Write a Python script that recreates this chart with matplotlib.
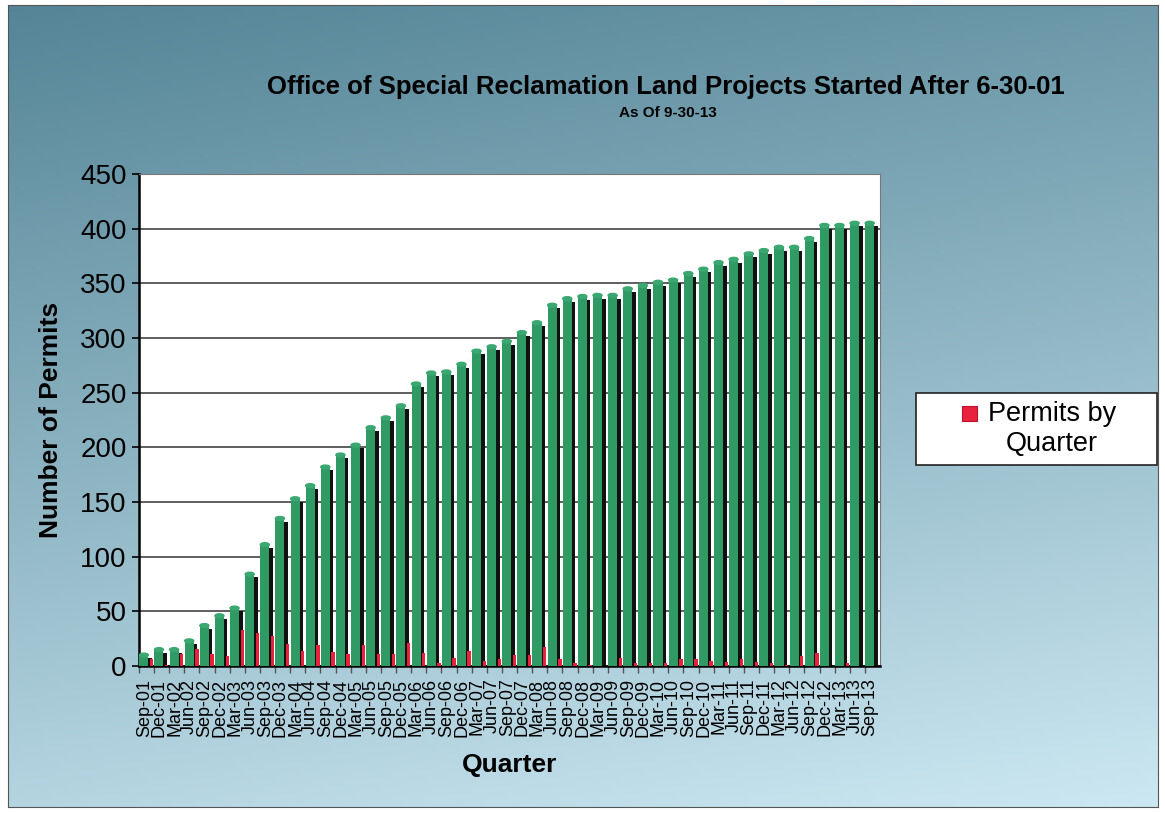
import numpy as np
import matplotlib.pyplot as plt
from matplotlib.patches import Rectangle, Ellipse

plt.rcParams['font.family'] = ['Liberation Sans', 'DejaVu Sans']

quarters = ['Sep-01', 'Dec-01', 'Mar-02', 'Jun-02', 'Sep-02', 'Dec-02', 'Mar-03', 'Jun-03',
            'Sep-03', 'Dec-03', 'Mar-04', 'Jun-04', 'Sep-04', 'Dec-04', 'Mar-05', 'Jun-05',
            'Sep-05', 'Dec-05', 'Mar-06', 'Jun-06', 'Sep-06', 'Dec-06', 'Mar-07', 'Jun-07',
            'Sep-07', 'Dec-07', 'Mar-08', 'Jun-08', 'Sep-08', 'Dec-08', 'Mar-09', 'Jun-09',
            'Sep-09', 'Dec-09', 'Mar-10', 'Jun-10', 'Sep-10', 'Dec-10', 'Mar-11', 'Jun-11',
            'Sep-11', 'Dec-11', 'Mar-12', 'Jun-12', 'Sep-12', 'Dec-12', 'Mar-13', 'Jun-13',
            'Sep-13']

# permessi cumulativi (barre verdi)
cumulative = [10, 15, 15, 23, 37, 46, 53, 84, 111, 135, 153, 165, 182, 193, 202, 218,
              227, 238, 258, 268, 269, 276, 288, 292, 297, 305, 314, 330, 336, 338, 339, 339,
              345, 348, 351, 353, 359, 363, 369, 372, 377, 380, 383, 383, 391, 403, 403, 405,
              405]

# permessi per trimestre (barre rosse)
per_quarter = [6, 1, 11, 16, 11, 9, 33, 30, 27, 20, 14, 19, 13, 11, 19, 11,
               11, 21, 12, 3, 7, 14, 5, 6, 10, 10, 17, 6, 3, 1, 0, 7,
               3, 3, 3, 6, 6, 5, 4, 6, 4, 3, 1, 9, 12, 0, 3, 0,
               0]

W, H = 1165, 813
fig = plt.figure(figsize=(W / 100, H / 100), dpi=100)
fig.patch.set_facecolor('white')

# sfondo sfumato
bg = fig.add_axes([8 / W, 6 / H, 1150 / W, 802 / H], zorder=0)
yy, xx = np.mgrid[0:1:200j, 0:1:300j]
t = np.clip(0.8 * yy + 0.2 * xx, 0, 1)
top = np.array([0.33, 0.52, 0.59])
bottom = np.array([0.80, 0.91, 0.95])
img = top + (bottom - top) * t[..., None]
bg.imshow(img, extent=[0, 1, 0, 1], aspect='auto', origin='upper')
bg.set_xticks([])
bg.set_yticks([])
for s in bg.spines.values():
    s.set_color('#555555')
    s.set_linewidth(0.8)

ax = fig.add_axes([139 / W, (H - 666) / H, (880 - 139) / W, (666 - 174) / H], zorder=1)
ax.set_facecolor('white')

x = np.arange(len(quarters))
shadow = [v - 3 for v in cumulative]

ax.bar(x + 0.35, shadow, width=0.5, align='edge', color='#111111', zorder=2)
ax.bar(x + 0.02, cumulative, width=0.6, align='edge', color='#2f9a63', zorder=3)
for xi, v in zip(x, cumulative):
    ax.add_patch(Ellipse((xi + 0.32, v), 0.6, 3.5, color='#3aa870', zorder=4))
ax.bar(x + 0.72, per_quarter, width=0.22, align='edge', color='#e8213c', zorder=5)

ax.set_xlim(0, len(quarters))
ax.set_ylim(0, 450)
ax.set_yticks(range(0, 451, 50))
ax.yaxis.grid(True, color='#333333', linewidth=1.1)
ax.set_axisbelow(True)
ax.tick_params(axis='y', labelsize=20, length=5, width=1.2, pad=4)

ax.set_xticks(x + 0.35)
ax.set_xticklabels(quarters, rotation=90, fontsize=13)
ax.tick_params(axis='x', which='major', length=0, pad=9)
ax.set_xticks(x, minor=True)
ax.tick_params(axis='x', which='minor', length=5, width=1, color='#555555')

ax.spines['left'].set_linewidth(1.8)
ax.spines['bottom'].set_linewidth(1.8)
ax.spines['top'].set_color('#777777')
ax.spines['right'].set_color('#777777')

ax.set_ylabel('Number of Permits', fontsize=19, fontweight='bold', labelpad=12)
ax.set_xlabel('Quarter', fontsize=19, fontweight='bold', labelpad=12)

fig.text(666 / W, 1 - 87 / H, 'Office of Special Reclamation Land Projects Started After 6-30-01',
         ha='center', va='center', fontsize=18.5, fontweight='bold')
fig.text(668 / W, 1 - 113 / H, 'As Of 9-30-13', ha='center', va='center',
         fontsize=11, fontweight='bold')

# legenda
fig.patches.append(Rectangle((916 / W, 1 - 465 / H), (1157 - 916) / W, (465 - 393) / H,
                             transform=fig.transFigure, facecolor='white',
                             edgecolor='#222222', linewidth=1.2, zorder=3))
fig.patches.append(Rectangle((962 / W, 1 - 421 / H), 15 / W, 15 / H,
                             transform=fig.transFigure, facecolor='#e8213c',
                             edgecolor='#c01030', linewidth=0.8, zorder=4))
fig.text(1052 / W, 1 - 429 / H, 'Permits by\nQuarter', ha='center', va='center',
         fontsize=19.5, linespacing=1.2, zorder=5)

plt.savefig('out.png', dpi=100)
